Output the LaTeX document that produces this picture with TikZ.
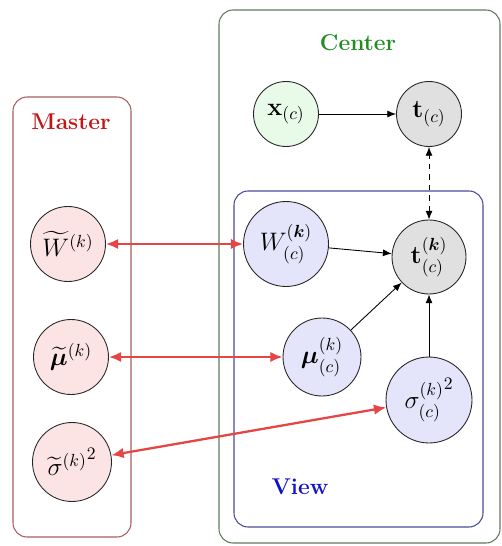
\documentclass[tikz,border=0pt]{standalone}
\usepackage{amsmath,amssymb,bm}
\usepackage{xcolor}
\definecolor{masterline}{HTML}{A65E5E}
\definecolor{centerline}{HTML}{5E7A5E}
\definecolor{viewline}{HTML}{4A4A9A}
\definecolor{masterfill}{HTML}{FCE4E4}
\definecolor{inputfill}{HTML}{E8FAE8}
\definecolor{obsfill}{HTML}{E0E0E0}
\definecolor{viewfill}{HTML}{E4E4FA}
\definecolor{linkred}{HTML}{E64545}
\definecolor{mastertext}{HTML}{C41515}
\definecolor{centertext}{HTML}{228B22}
\definecolor{viewtext}{HTML}{1111CC}
\usetikzlibrary{arrows.meta,fit,positioning,calc}

\begin{document}
\begin{tikzpicture}[
            x=0.02cm, y=-0.02cm,
            >=Latex,
            % --- node styles ---
            var/.style={
                circle, draw=black!85, line width=0.5pt,
                inner sep=1pt, font=\fontsize{14.5}{17}\selectfont
            },
            mastervar/.style={var, fill=masterfill, minimum size=1.5cm},
            viewvar/.style={var, fill=viewfill, minimum size=1.62cm},
            inputvar/.style={var, fill=inputfill, minimum size=1.3cm},
            obsvar/.style={var, fill=obsfill, minimum size=1.3cm},
            % --- edge styles ---
            arr/.style={-{Latex[length=5pt,width=4pt]}, line width=0.5pt},
            link/.style={{Latex[length=7pt,width=6pt]}-{Latex[length=7pt,width=6pt]},
                line width=1.3pt, draw=linkred},
            % --- group styles ---
            group/.style={
                rounded corners=8pt, line width=0.6pt, inner sep=0pt
            },
            grouplabel/.style={
                font=\fontsize{13}{15}\selectfont\bfseries
            }
        ]
        \useasboundingbox (0,0) rectangle (502,546);

        % ===== Grouping boxes =====
        \node[group, draw=centerline, fit={(219,10)(500,543)}] (centerbox) {};
        \node[group, draw=masterline, fit={(13,97)(131,537)}] (masterbox) {};
        \node[group, draw=viewline, fit={(234,191)(483,527)}] (viewbox) {};

        \node[grouplabel, text=centertext] (centerlabel) at (358,43) {Center};
        \node[grouplabel, text=mastertext] (masterlabel) at (71,122) {Master};
        \node[grouplabel, text=viewtext] (viewlabel) at (300,487) {View};

        % --- Center ---
        \node[inputvar] (x) at (286,114) {$\mathbf{x}_{(c)}$};
        \node[obsvar] (t) at (429,114) {$\mathbf{t}_{(c)}$};

        % --- View ---
        \node[obsvar, minimum size=1.48cm] (tk) at (429,257)
            {$\mathbf{t}^{(\bm{k})}_{(c)}$};
        \node[viewvar, minimum size=1.7cm] (W) at (286,244)
            {$W^{(\bm{k})}_{(c)}$};
        \node[viewvar, minimum size=1.56cm] (mu) at (322,357)
            {$\bm{\mu}^{(k)}_{(c)}$};
        \node[viewvar, minimum size=1.72cm] (sigma) at (429,400)
            {${{}\sigma^{(k)}_{(c)}}^2$};

        % --- Master ---
        \node[mastervar] (Wm) at (68,244) {$\widetilde{W}^{(k)}$};
        \node[mastervar] (mum) at (71,357) {$\widetilde{\bm{\mu}}^{(k)}$};
        \node[mastervar, minimum size=1.58cm] (sigmam) at (72,462)
            {${{}\widetilde{\sigma}^{(k)}}^2$};

        % ===== Arrows: generative model =====
        \draw[arr] (x) -- (t);
        \draw[arr] (W) -- (tk);
        \draw[arr] (mu) -- (tk);
        \draw[arr] (sigma) -- (tk);
        \draw[arr, {Latex[length=5pt,width=4pt]}-{Latex[length=5pt,width=4pt]}, dashed] (tk) -- (t);

        % ===== Arrows: master links =====
        \draw[link] (Wm) -- (W);
        \draw[link] (mum) -- (mu);
        \draw[link] (sigmam) -- (sigma);

        \end{tikzpicture}
\end{document}
